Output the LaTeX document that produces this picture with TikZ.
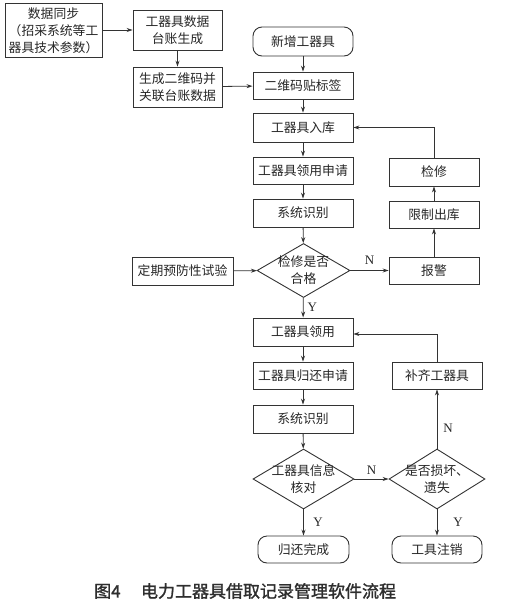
\documentclass[tikz,border=0pt]{standalone}
\usepackage{fontspec}
\setmainfont{Noto Sans CJK SC}
\newfontfamily\latin{Liberation Serif}
\newfontfamily\capfont[FakeBold=1.5]{Noto Sans CJK SC}
\usetikzlibrary{arrows.meta,shapes.geometric,calc}
\definecolor{ln}{HTML}{333333}
\definecolor{tx}{HTML}{262626}
\definecolor{capc}{HTML}{2E2E2E}
\begin{document}
\begin{tikzpicture}[x=1pt,y=-1pt,
  box/.style={draw=ln,line width=0.9pt,minimum width=100pt,minimum height=28pt,inner sep=0pt,text=tx,font=\fontsize{12.8}{17}\selectfont,align=center},
  rbox/.style={box,rounded corners=9pt},
  dia/.style={draw=ln,line width=0.9pt,diamond,inner sep=0pt},
  dtext/.style={text=tx,font=\fontsize{12.8}{17}\selectfont,align=center,inner sep=0pt},
  arr/.style={draw=ln,line width=0.8pt,-{Stealth[length=6pt,width=4pt]}},
  yn/.style={font=\latin\fontsize{13}{13}\selectfont,text=tx,inner sep=0pt}
]
\useasboundingbox (0,0) rectangle (505,603);

% left column
\node[box,minimum width=97pt,minimum height=54pt] (sync) at (53.5,30.5) {数据同步\\（招采系统等工\\器具技术参数）};
\node[box,minimum width=89pt,minimum height=40pt] (ledger) at (177.5,30) {工器具数据\\台账生成};
\node[box,minimum width=89pt,minimum height=40pt] (qr) at (177.5,87) {生成二维码并\\关联台账数据};
\node[box,minimum width=101pt] (test) at (182.5,271) {定期预防性试验};

% main column
\node[rbox,minimum height=29pt] (new) at (303,41.5) {新增工器具};
\node[box,minimum height=27pt] (label) at (303,85.5) {二维码贴标签};
\node[box,minimum height=29pt] (stockin) at (303,127.5) {工器具入库};
\node[box,minimum height=27pt] (apply) at (303,170.5) {工器具领用申请};
\node[box] (ident1) at (303,213) {系统识别};
\node[dia,minimum width=93pt,minimum height=54pt,label={[dtext]center:检修是否\\合格}] (d1) at (303.5,270.5) {};
\node[box] (use) at (303,332) {工器具领用};
\node[box,minimum height=27pt] (retapp) at (303,375.5) {工器具归还申请};
\node[box] (ident2) at (303,419) {系统识别};
\node[dia,minimum width=101pt,minimum height=60pt,label={[dtext]center:工器具信息\\核对}] (d2) at (303.5,479) {};
\node[rbox,minimum width=91pt,minimum height=27pt] (done) at (303.5,549.5) {归还完成};

% right column
\node[box,minimum width=90pt] (repair) at (434,172) {检修};
\node[box,minimum width=90pt,minimum height=27pt] (restrict) at (434,214.5) {限制出库};
\node[box,minimum width=90pt,minimum height=27pt] (alarm) at (434,270.5) {报警};
\node[box,minimum width=90pt,minimum height=27pt] (fill) at (437,375.5) {补齐工器具};
\node[dia,minimum width=96pt,minimum height=60pt,label={[dtext]center:是否损坏、\\遗失}] (d3) at (437,479) {};
\node[rbox,minimum width=90pt,minimum height=27pt] (cancel) at (437,549.5) {工具注销};

% connectors
\draw[arr] (sync.east |- ledger) -- (ledger.west);
\draw[arr] (ledger) -- (qr);
\draw[arr] (qr) -- (label);
\draw[arr] (new) -- (label);
\draw[arr] (label) -- (stockin);
\draw[arr] (stockin) -- (apply);
\draw[arr] (apply) -- (ident1);
\draw[arr] (ident1) -- (d1);
\draw[arr] (test) -- (d1);
\draw[arr] (d1) -- node[yn,above=6pt] {N} (alarm);
\draw[arr] (d1) -- node[yn,right=4pt] {Y} (use);
\draw[arr] (alarm) -- (restrict);
\draw[arr] (restrict) -- (repair);
\draw[arr] (repair.north) |- (stockin.east);
\draw[arr] (use) -- (retapp);
\draw[arr] (retapp) -- (ident2);
\draw[arr] (ident2) -- (d2);
\draw[arr] (d2) -- node[yn,right=9.5pt] {Y} (done);
\draw[arr] (d2) -- node[yn,above=4pt] {N} (d3);
\draw[arr] (d3) -- node[yn,right=6pt,pos=0.35] {N} (fill);
\draw[arr] (d3) -- node[yn,right=16pt] {Y} (cancel);
\draw[arr] (fill.north) |- ($(use.east)+(0,2)$);

% caption
\node[anchor=west,inner sep=0pt,font=\capfont\fontsize{17}{17}\selectfont,text=capc] (cap) at (94,591) {图4\hspace{1.2em}电力工器具借取记录管理软件流程};
\end{tikzpicture}
\end{document}
